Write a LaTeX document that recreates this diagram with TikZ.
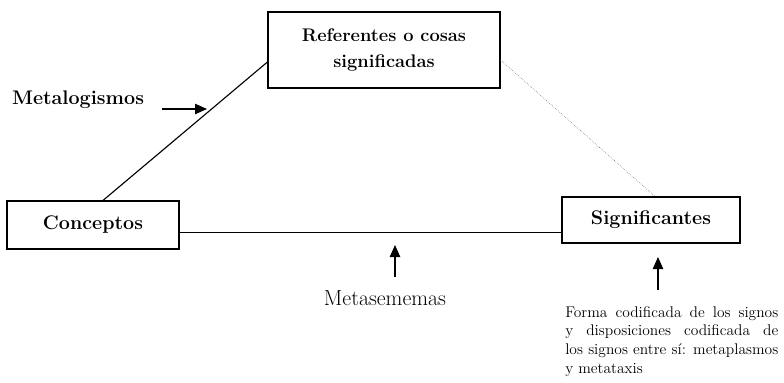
\documentclass[tikz,border=0pt]{standalone}
\usetikzlibrary{arrows.meta}
\tikzset{
    box/.style={rectangle, draw, thick, align=center, font=\bfseries\fontsize{14}{17}\selectfont, inner sep=0mm},
    lbl/.style={rectangle, draw=none, inner sep=0mm},
    tip/.style={-{Triangle[length=3mm,width=2.6mm]}, thick}
}

\begin{document}
\begin{tikzpicture}
        \useasboundingbox (0cm, 0cm) rectangle (19.6cm, 9.55cm);
        \node (ref) [box, font=\bfseries\fontsize{13}{15}\selectfont, minimum width=5.8cm, minimum height=1.9cm] at (9.600000cm, 8.300000cm) {Referentes o cosas\\[4pt]significadas};
        \node (con) [box, minimum width=4.3cm, minimum height=1.2cm] at (2.325000cm, 3.925000cm) {Conceptos};
        \node (sig) [box, minimum width=4.45cm, minimum height=1.15cm] at (16.275000cm, 4.050000cm) {Significantes};
        \node (mlog) [lbl, font=\bfseries\fontsize{14}{17}\selectfont] at (1.950000cm, 7.050000cm) {Metalogismos};
        \node (msem) [lbl, font=\fontsize{15.5}{18}\selectfont] at (9.625000cm, 2.100000cm) {Metasememas};
        \node (forma) [lbl, anchor=north west, text width=5.325cm, align=justify, font=\fontsize{11}{13.3}\selectfont] at (14.125000cm, 1.900000cm)
                {Forma codificada de los signos\linebreak y disposiciones codificada de\linebreak los signos entre sí: metaplasmos\linebreak y metataxis};
        \coordinate (a1) at (4.050000cm, 6.825000cm);
        \coordinate (a2) at (5.175000cm, 6.825000cm);
        \coordinate (b1) at (9.875000cm, 2.625000cm);
        \coordinate (b2) at (9.875000cm, 3.425000cm);
        \coordinate (c1) at (16.450000cm, 2.300000cm);
        \coordinate (c2) at (16.450000cm, 3.125000cm);
        \draw ([xshift=0.25cm]con.north) edge [thick] ([yshift=-0.3cm]ref.west);
        \draw ([yshift=-0.25cm]ref.east) edge [densely dotted, black!60] ([xshift=0.1cm]sig.north);
        \draw ([yshift=-0.175cm]con.east) edge [thin] ([yshift=-0.175cm]con.east -| sig.west);
        \draw (a1) edge [tip] (a2);
        \draw (b1) edge [tip] (b2);
        \draw (c1) edge [tip] (c2);
\end{tikzpicture}
\end{document}
